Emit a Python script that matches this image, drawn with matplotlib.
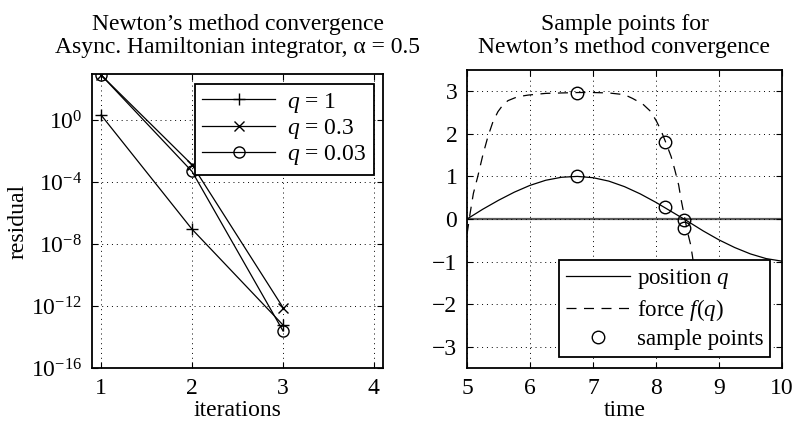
import matplotlib
matplotlib.use("Agg")
from matplotlib import pyplot as plt

plt.rcParams["font.family"] = ["Liberation Serif", "DejaVu Serif"]
plt.rcParams["mathtext.fontset"] = "custom"
plt.rcParams["mathtext.rm"] = "Liberation Serif"
plt.rcParams["mathtext.it"] = "Liberation Serif:italic"
plt.rcParams["font.size"] = 17

# residual of Newton iterations for three values of q
iterations = [1, 2, 3]
residual_q1 = [2.1, 9e-8, 6e-14]
residual_q03 = [800, 1.3e-3, 8e-13]
residual_q003 = [800, 4.8e-4, 2.5e-14]

# position and force along one oscillation
time_q = [5.0, 5.25, 5.5, 5.75, 6.0, 6.25, 6.5, 6.75, 7.0, 7.25, 7.5,
          7.75, 8.0, 8.25, 8.5, 8.75, 9.0, 9.25, 9.5, 9.75, 10.0]
position = [0.0, 0.23, 0.44, 0.63, 0.79, 0.91, 0.98, 1.0, 0.97, 0.89, 0.76,
            0.59, 0.39, 0.17, -0.05, -0.28, -0.49, -0.67, -0.82, -0.93, -0.99]
time_f = [5.0, 5.05, 5.1, 5.17, 5.25, 5.33, 5.41, 5.49, 5.57, 5.65, 5.8,
          5.97, 6.25, 6.5, 6.76, 7.0, 7.25, 7.5, 7.63, 7.79, 7.92, 8.01,
          8.08, 8.15, 8.24, 8.3, 8.36, 8.4, 8.46, 8.5, 8.55, 8.58, 8.62, 8.7]
force = [-0.35, 0.15, 0.6, 1.0, 1.5, 1.93, 2.28, 2.52, 2.68, 2.78, 2.87,
         2.91, 2.95, 2.96, 2.97, 2.97, 2.96, 2.92, 2.83, 2.7, 2.52, 2.29,
         2.08, 1.82, 1.47, 1.15, 0.8, 0.45, 0.0, -0.3, -0.6, -0.88, -1.3, -1.9]
sample_t = [6.75, 6.75, 8.15, 8.15, 8.45, 8.45]
sample_y = [2.95, 1.0, 1.8, 0.27, -0.02, -0.2]


def matlab_axes(ax):
    ax.tick_params(direction="in", top=True, right=True, length=4, width=0.8,
                   pad=7, labelsize=17)
    for s in ax.spines.values():
        s.set_linewidth(1.3)
    ax.grid(True, linestyle=(0, (1, 4)), color="black", linewidth=0.7)


fig = plt.figure(figsize=(7.93, 4.24), dpi=100)

# left: convergence on a log scale
ax1 = fig.add_axes([0.116, 0.132, 0.367, 0.693])
ax1.semilogy(iterations, residual_q1, "k-", marker="+", markersize=9, lw=0.9, label="$q$ = 1")
ax1.semilogy(iterations, residual_q03, "k-", marker="x", markersize=6.5, lw=0.9, label="$q$ = 0.3")
ax1.semilogy(iterations, residual_q003, "k-", marker="o", markersize=8, mfc="none",
             lw=0.9, label="$q$ = 0.03")
ax1.set_xlim(0.9, 4.1)
ax1.set_ylim(1e-16, 900)
ax1.set_xticks([1, 2, 3, 4])
ax1.set_yticks([1e0, 1e-4, 1e-8, 1e-12, 1e-16])
ax1.minorticks_off()
matlab_axes(ax1)
ax1.set_xlabel("iterations", labelpad=1)
ax1.set_ylabel("residual", labelpad=2)
ax1.set_title("Newton\u2019s method convergence\nAsync. Hamiltonian integrator, \u03b1 = 0.5",
              fontsize=17, linespacing=1.15, pad=15)
leg1 = ax1.legend(loc="upper right", fancybox=False, edgecolor="black", framealpha=1,
                  handlelength=3.1, borderaxespad=0.4, labelspacing=0.1,
                  borderpad=0.3, handletextpad=0.5)
leg1.get_frame().set_linewidth(1.3)

# right: where the samples fall on the trajectory
ax2 = fig.add_axes([0.589, 0.132, 0.397, 0.703])
ax2.axhline(0, color="0.35", lw=1.6, zorder=1)
ax2.plot(time_q, position, "k-", lw=0.9, label="position $q$")
ax2.plot(time_f, force, "k--", lw=0.9, dashes=(8, 6), label="force $\\mathit{f(q)}$")
ax2.plot(sample_t, sample_y, "ko", mfc="none", markersize=9, lw=0, label="sample points")
ax2.set_xlim(5, 10)
ax2.set_ylim(-3.5, 3.5)
ax2.set_xticks([5, 6, 7, 8, 9, 10])
ax2.set_yticks([-3, -2, -1, 0, 1, 2, 3])
ax2.set_yticklabels(["\u22123", "\u22122", "\u22121", "0", "1", "2", "3"])
matlab_axes(ax2)
ax2.set_xlabel("time", labelpad=1)
ax2.set_title("Sample points for\nNewton\u2019s method convergence",
              fontsize=17, linespacing=1.15, pad=12)
leg2 = ax2.legend(loc="lower right", fancybox=False, edgecolor="black", framealpha=1,
                  handlelength=2.8, borderaxespad=0.5, labelspacing=0.25,
                  borderpad=0.3, handletextpad=0.3, fontsize=16.5)
leg2.get_frame().set_linewidth(1.3)

fig.savefig("out.png", dpi=100)
